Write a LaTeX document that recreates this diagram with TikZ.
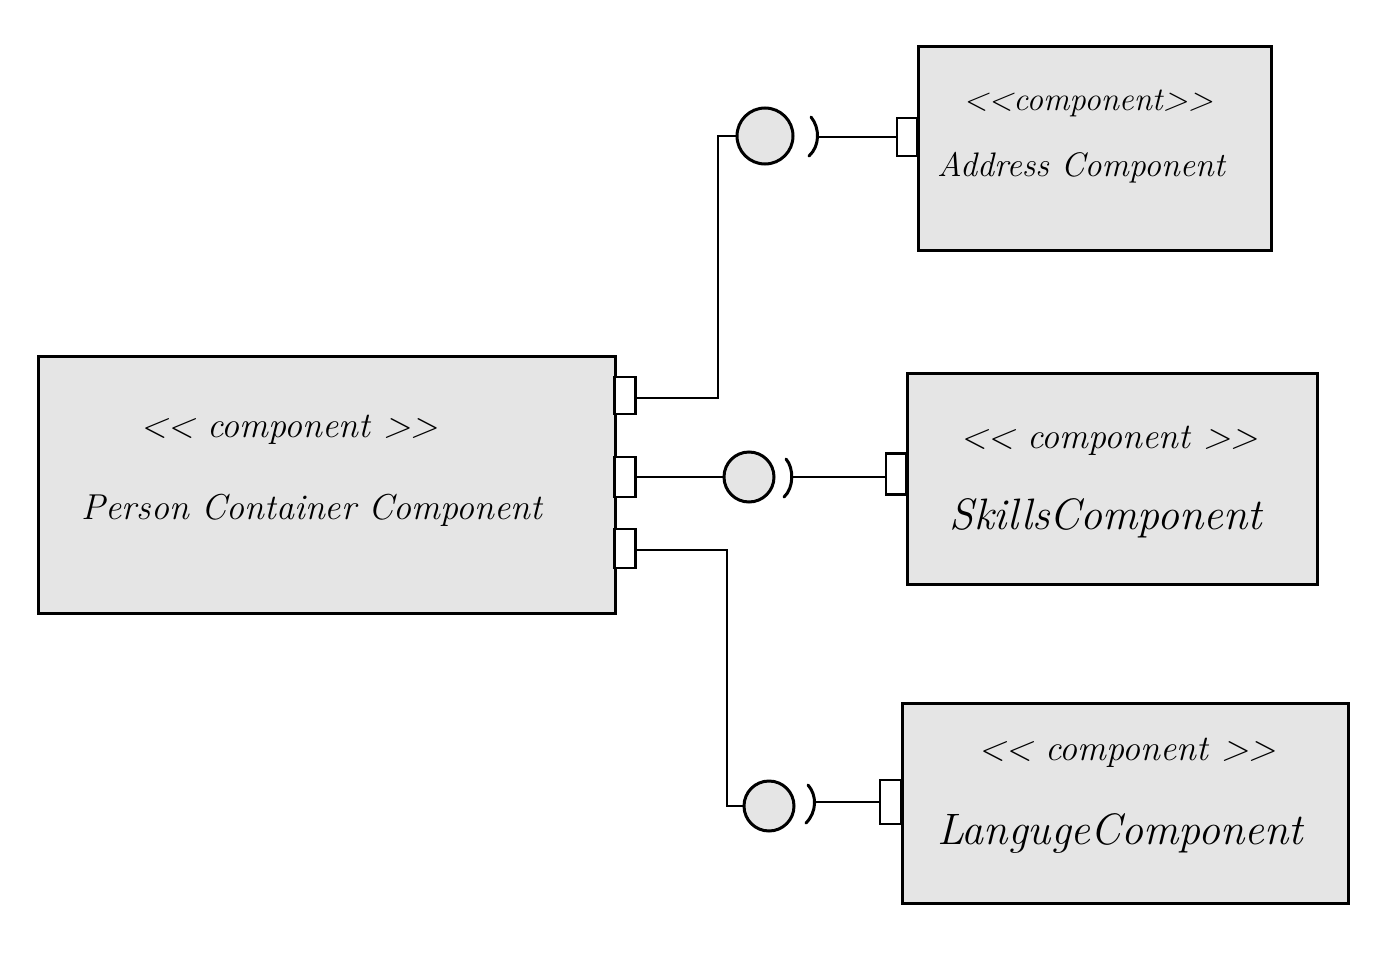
\documentclass[tikz,border=0pt]{standalone}
\usepackage{fontspec}
\definecolor{boxgray}{HTML}{E5E5E5}
\begin{document}
\begin{tikzpicture}[x=1pt,y=-1pt,
  comp/.style={draw, line width=3pt, fill=boxgray, inner sep=0pt, anchor=north west},
  port/.style={draw, line width=2.5pt, fill=white, inner sep=0pt, minimum width=21pt},
  iface/.style={circle, draw, line width=3pt, fill=boxgray, inner sep=0pt},
  wire/.style={line width=2.5pt},
  sock/.style={line width=3pt, line cap=round},
  label/.style={inner sep=0pt, font=\fontsize{#1}{#1}\selectfont\itshape}]
\useasboundingbox (0,0) rectangle (1400,958);

% component boxes
\node[comp, minimum width=577pt, minimum height=257pt] (main) at (37,355) {};
\node[comp, minimum width=353pt, minimum height=204pt] (addr) at (917,45) {};
\node[comp, minimum width=410pt, minimum height=211pt] (skil) at (906,372) {};
\node[comp, minimum width=446pt, minimum height=200pt] (lang) at (901,702) {};

% texts
\node[label=36] (t1) at (289,430) {{<}{<} component {>}{>}};
\node[label=36] (n1) at (312,510) {Person Container Component};
\node[label=33] (t2) at (1088,103) {{<}{<}component{>}{>}};
\node[label=34] (n2) at (1081,168) {Address Component};
\node[label=36] (t3) at (1109,441) {{<}{<} component {>}{>}};
\node[label=44] (n3) at (1106,518) {SkillsComponent};
\node[label=36] (t4) at (1127,753) {{<}{<} component {>}{>}};
\node[label=44] (n4) at (1120,833) {LangugeComponent};

% ports on the main box
\node[port, minimum height=37pt] (p1) at (625,395.5) {};
\node[port, minimum height=40pt] (p2) at (625,477) {};
\node[port, minimum height=39pt] (p3) at (625,548.5) {};

% ports on the target components
\node[port, minimum width=20pt, minimum height=38pt] (ap) at (907,137) {};
\node[port, minimum width=20pt, minimum height=41pt] (sp) at (896,474) {};
\node[port, minimum width=21pt, minimum height=44pt] (lp) at (890.5,802) {};

% provided interfaces (balls)
\node[iface, minimum size=56pt] (c1) at (765,136) {};
\node[iface, minimum size=50pt] (c2) at (749,477) {};
\node[iface, minimum size=50pt] (c3) at (769,806) {};

% junctions and sockets
\coordinate (j1) at (718,136);
\coordinate (j3) at (727,806);
\coordinate (s1) at (817,137);
\coordinate (s2) at (791,477);
\coordinate (s3) at (815,802);

% wires
\draw[wire] (p1.east |- 0,398) -| (j1) -- (c1.west);
\draw[wire] (p2.east) -- (c2.west);
\draw[wire] (p3.east |- 0,550) -| (j3) -- (c3.west);
\draw[wire] (s1) -- (s1 -| ap.west);
\draw[wire] (s2) -- (s2 -| sp.west);
\draw[wire] (s3) -- (s3 -| lp.west);

% sockets (half arcs)
\draw[sock] (811,117) .. controls (820,128) and (820,146) .. (809,156);
\draw[sock] (786,459) .. controls (794,468) and (794,488) .. (784,497);
\draw[sock] (808,785) .. controls (817,795) and (817,812) .. (806,823);
\end{tikzpicture}
\end{document}
